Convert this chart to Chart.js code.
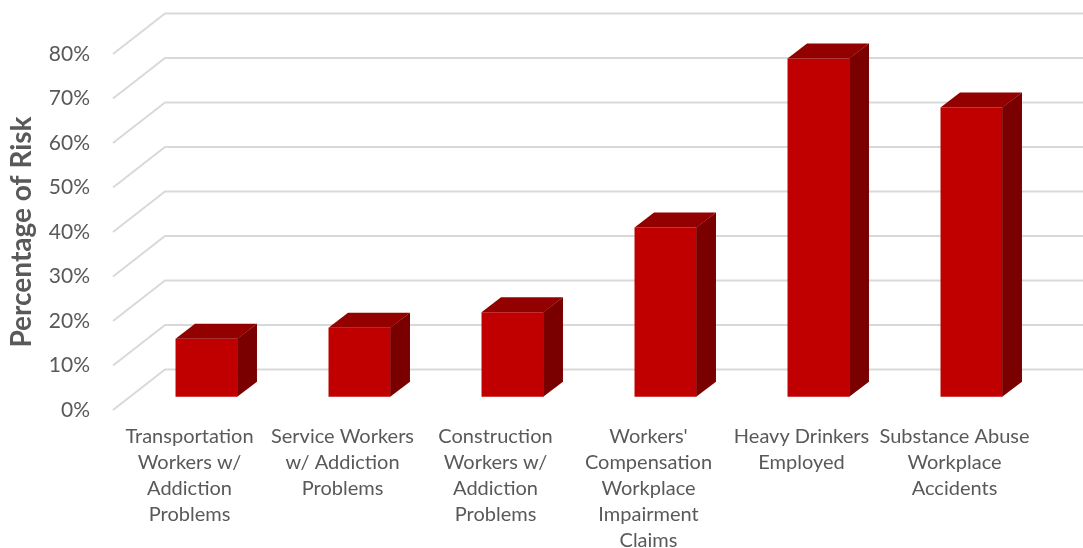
<!DOCTYPE html>
<html>
<head>
<meta charset="utf-8">
<script src="https://cdn.jsdelivr.net/npm/chart.js@4.4.1/dist/chart.umd.min.js"></script>
<style>
  html, body { margin: 0; padding: 0; background: #ffffff; }
  #wrap { width: 1083px; height: 548px; position: relative; }
</style>
</head>
<body>
<div id="wrap"><canvas id="c"></canvas></div>
<script>
const categories = [
  ['Transportation', 'Workers w/', 'Addiction', 'Problems'],
  ['Service Workers', 'w/ Addiction', 'Problems'],
  ['Construction', 'Workers w/', 'Addiction', 'Problems'],
  ["Workers'", 'Compensation', 'Workplace', 'Impairment', 'Claims'],
  ['Heavy Drinkers', 'Employed'],
  ['Substance Abuse', 'Workplace', 'Accidents']
];
const riskValues = [13, 15.5, 19, 38, 76, 65];
const yAxisTitle = 'Percentage of Risk';
const yMin = 0, yMax = 80, yStep = 10;

const FONT = 'Lato, "Open Sans", sans-serif';
const TEXT = '#595959';

const depthPlugin = {
  id: 'depth3d',
  beforeDatasetsDraw(chart, args, opts) {
    const { ctx, chartArea: a, scales: { y } } = chart;
    ctx.save();
    ctx.strokeStyle = opts.gridColor;
    ctx.lineWidth = opts.gridWidth;
    y.ticks.forEach(t => {
      const py = y.getPixelForValue(t.value);
      ctx.beginPath();
      ctx.moveTo(a.left, py);
      ctx.lineTo(a.left + opts.wallDx, py + opts.wallDy);
      ctx.lineTo(a.right + opts.wallDx, py + opts.wallDy);
      ctx.stroke();
    });
    ctx.restore();
    ctx.save();
    ctx.translate(opts.barDx, opts.barDy);
  },
  afterDatasetsDraw(chart, args, opts) {
    const ctx = chart.ctx;
    chart.getSortedVisibleDatasetMetas().forEach(meta => {
      meta.data.forEach(bar => {
        const { x, y, base, width } = bar.getProps(['x', 'y', 'base', 'width'], true);
        const l = x - width / 2, r = x + width / 2;
        const dx = opts.depthDx, dy = opts.depthDy;
        ctx.fillStyle = opts.topColor;
        ctx.beginPath();
        ctx.moveTo(l, y); ctx.lineTo(l + dx, y + dy); ctx.lineTo(r + dx, y + dy); ctx.lineTo(r, y);
        ctx.closePath(); ctx.fill();
        ctx.fillStyle = opts.sideColor;
        ctx.beginPath();
        ctx.moveTo(r - 0.3, y); ctx.lineTo(r + dx, y + dy); ctx.lineTo(r + dx, base + dy); ctx.lineTo(r - 0.3, base);
        ctx.closePath(); ctx.fill();
      });
    });
    ctx.restore();
  }
};

new Chart(document.getElementById('c'), {
  type: 'bar',
  data: {
    labels: categories,
    datasets: [{
      data: riskValues,
      backgroundColor: '#C00000',
      borderWidth: 0,
      categoryPercentage: 1,
      barPercentage: 0.405,
      clip: false
    }]
  },
  options: {
    responsive: true,
    maintainAspectRatio: false,
    animation: false,
    layout: { padding: { left: 0, right: 52, top: 54, bottom: 0 } },
    plugins: {
      legend: { display: false },
      tooltip: { enabled: false },
      depth3d: {
        gridColor: '#D9D9D9', gridWidth: 2,
        wallDx: 52, wallDy: -40.5,
        barDx: 17, barDy: -13.3,
        depthDx: 19.5, depthDy: -15,
        topColor: '#920000', sideColor: '#7A0000'
      }
    },
    scales: {
      x: {
        grid: { display: false },
        border: { display: false },
        ticks: {
          color: TEXT, font: { family: FONT, size: 20, lineHeight: 26 / 20 },
          maxRotation: 0, minRotation: 0, autoSkip: false, padding: 6
        },
        afterFit(s) { s.height = 138; }
      },
      y: {
        min: yMin, max: yMax,
        grid: { display: false },
        border: { display: false },
        ticks: {
          stepSize: yStep, color: TEXT, padding: 15,
          font: { family: FONT, size: 21 },
          callback: v => v + '%'
        },
        title: {
          display: true, text: yAxisTitle, color: TEXT,
          font: { family: FONT, size: 28, weight: 'bold', lineHeight: 1.2 },
          padding: { top: 5, bottom: 0 }
        },
        afterFit(s) { s.width = 113; }
      }
    }
  },
  plugins: [depthPlugin]
});
</script>
</body>
</html>
